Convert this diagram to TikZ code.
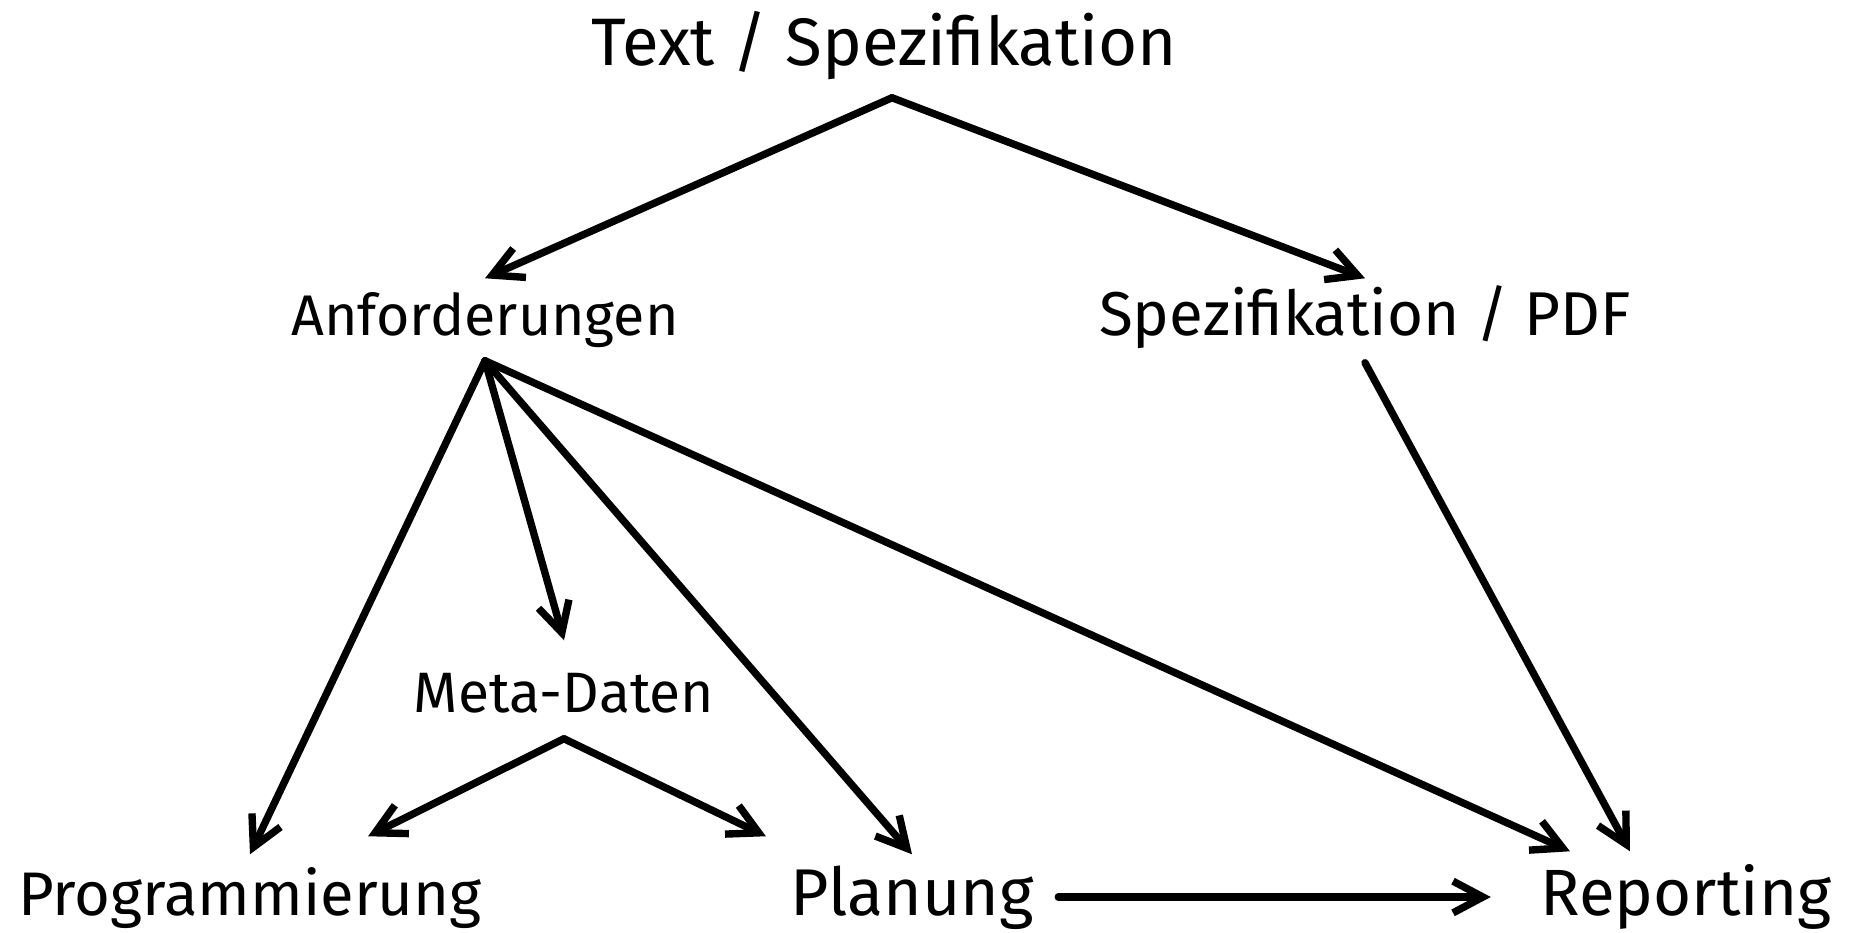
\documentclass[tikz,border=0pt]{standalone}
\usepackage{fontspec}
\setmainfont{Fira Sans}
\usetikzlibrary{arrows.meta}

\begin{document}
\begin{tikzpicture}[x=0.01cm,y=-0.01cm,
        arr/.style={-{Straight Barb[length=8.5pt,width=9pt]},line width=2.1pt,line cap=round,line join=round},
        lbl/.style={inner sep=0pt,anchor=base}]
        \useasboundingbox (0,0) rectangle (1852,932);

        % labels
        \node[lbl,font=\fontsize{19.1}{24}\selectfont,text depth=0.32cm] (text) at (884,65) {Text / Spezifikation};
        \node[lbl,font=\fontsize{16.3}{20}\selectfont,text height=0.56cm,text depth=0.25cm] (anf) at (485,335) {Anforderungen};
        \node[lbl,font=\fontsize{17.6}{21}\selectfont,text height=0.56cm,text depth=0.27cm] (spec) at (1365,335) {Spezifikation / PDF};
        \node[lbl,font=\fontsize{16.2}{20}\selectfont,text height=0.71cm,text depth=0.26cm] (meta) at (564,712) {Meta-Daten};
        \node[lbl,font=\fontsize{17.5}{22}\selectfont,text height=0.6cm] (prog) at (250,915) {Programmierung};
        \node[lbl,font=\fontsize{18.8}{22}\selectfont,text height=0.6cm,text depth=0.24cm] (plan) at (912,915) {Planung};
        \node[lbl,font=\fontsize{18.6}{22}\selectfont,text height=0.63cm,text depth=0.27cm] (rep) at (1686,915) {Reporting};

        % arrows
        \draw[arr] ([xshift=0.08cm]text.south) -- (anf.north);
        \draw[arr] ([xshift=0.08cm]text.south) -- (spec.north);
        \draw[arr] (anf.south) -- (prog.north);
        \draw[arr] (anf.south) -- (meta.north);
        \draw[arr] (anf.south) -- (plan.north);
        \draw[arr] (anf.south) -- ([xshift=-1.16cm]rep.north);
        \draw[arr] (spec.south) -- ([xshift=-0.56cm]rep.north);
        \draw[arr] (meta.south) -- ([shift={(1.18cm,0.18cm)}]prog.north);
        \draw[arr] (meta.south) -- ([shift={(-1.46cm,0.18cm)}]plan.north);
        \draw[arr] ([xshift=0.24cm]plan.east) -- ([xshift=-0.49cm]rep.west);
    \end{tikzpicture}
\end{document}
